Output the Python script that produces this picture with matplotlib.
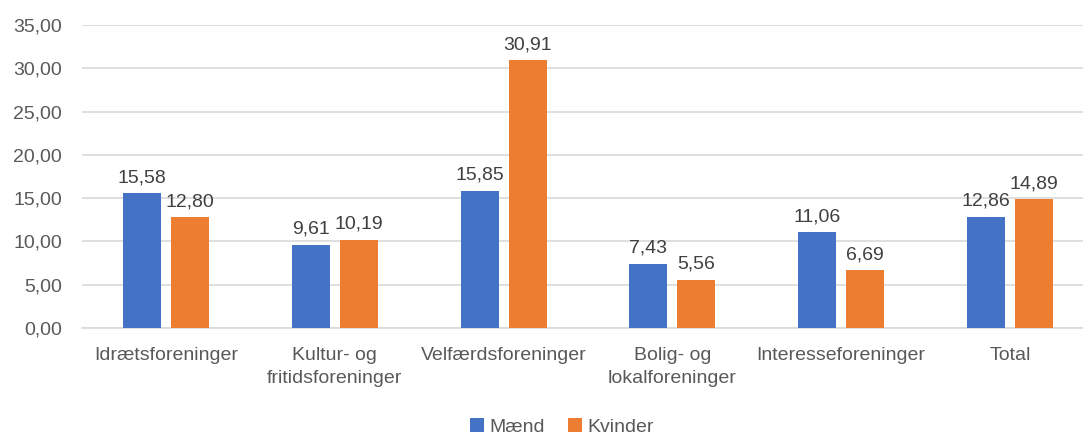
import matplotlib
matplotlib.use("Agg")
import matplotlib.pyplot as plt
import numpy as np

categories = ["Idrætsforeninger", "Kultur- og\nfritidsforeninger", "Velfærdsforeninger",
              "Bolig- og\nlokalforeninger", "Interesseforeninger", "Total"]
maend = [15.58, 9.61, 15.85, 7.43, 11.06, 12.86]
kvinder = [12.80, 10.19, 30.91, 5.56, 6.69, 14.89]
series_names = ["Mænd", "Kvinder"]
yticks = [0, 5, 10, 15, 20, 25, 30, 35]

plt.rcParams['font.family'] = ['Liberation Sans', 'DejaVu Sans']
TXT = "#595959"
FS = 14

W, H = 1083, 438
fig = plt.figure(figsize=(W/100, H/100), dpi=100)
left, right = 81.6, 81.6 + 6*168.8
bottom, top = 328, 25
ax = fig.add_axes([left/W, (H-bottom)/H, (right-left)/W, (bottom-top)/H])

x = np.arange(len(categories))
w = 0.225
off = 0.142
b1 = ax.bar(x - off, maend, w, color="#4472C4", label=series_names[0], zorder=3)
b2 = ax.bar(x + off, kvinder, w, color="#ED7D31", label=series_names[1], zorder=3)

def fmt(v):
    return f"{v:.2f}".replace(".", ",")

for bars, vals in ((b1, maend), (b2, kvinder)):
    for r, v in zip(bars, vals):
        ax.annotate(fmt(v), (r.get_x() + r.get_width()/2, v), xytext=(0, 5),
                    textcoords="offset points", ha="center", va="bottom",
                    fontsize=FS, color="#404040")

ax.set_xlim(-0.5, len(categories) - 0.5)
ax.set_ylim(0, 35)
ax.set_yticks(yticks)
ax.set_yticklabels([fmt(t) for t in yticks], fontsize=FS, color=TXT)
ax.set_xticks(x)
ax.set_xticklabels(categories, fontsize=FS, color=TXT, linespacing=1.45)
ax.tick_params(axis="both", length=0)
ax.tick_params(axis="y", pad=14)
ax.tick_params(axis="x", pad=14)
ax.grid(axis="y", color="#D9D9D9", linewidth=1.2, zorder=0)
for s in ["left", "right", "top"]:
    ax.spines[s].set_visible(False)
ax.spines["bottom"].set_color("#D9D9D9")
ax.spines["bottom"].set_linewidth(1.2)

fig.legend(handles=[b1, b2], labels=series_names, loc="center", bbox_to_anchor=(562/W, (H-427)/H),
           ncol=2, frameon=False, fontsize=FS, handlelength=0.7, handleheight=0.7,
           handletextpad=0.3, columnspacing=1.2, labelcolor=TXT)

fig.savefig("out.png", dpi=100)
